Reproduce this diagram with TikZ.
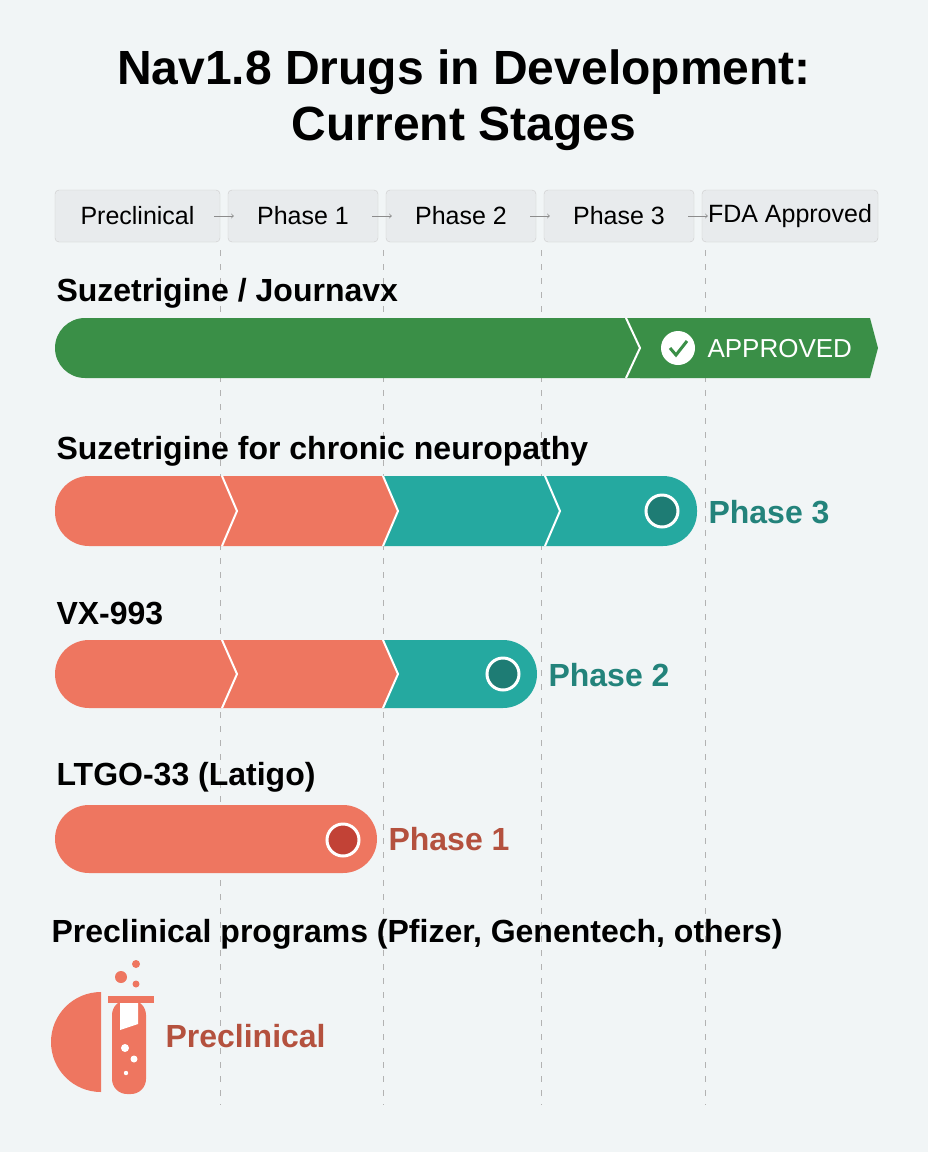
\documentclass[tikz,border=0pt]{standalone}
\usepackage{fontspec}
\setmainfont{Liberation Sans}
\usetikzlibrary{positioning}
\definecolor{bg}{HTML}{F1F5F6}
\definecolor{stagebg}{HTML}{E8EBED}
\definecolor{okgreen}{HTML}{3A8F47}
\definecolor{coral}{HTML}{EE7660}
\definecolor{teal}{HTML}{25A9A0}
\definecolor{darkteal}{HTML}{1E7C74}
\definecolor{tealtext}{HTML}{23837B}
\definecolor{rust}{HTML}{B4513E}
\begin{document}
\begin{tikzpicture}[x=1pt, y=-1pt,
  stage/.style={draw=black!20, fill=stagebg, rounded corners=4pt, minimum height=52pt, font=\fontsize{25}{27}\selectfont, inner sep=0pt},
  drug/.style={anchor=west, font=\bfseries\fontsize{32}{35}\selectfont},
  guide/.style={black!30, dash pattern=on 6pt off 8pt},
  chev/.style={white, line width=2pt},
  dot/.style={circle, draw=white, line width=3pt, minimum size=32pt, inner sep=0pt},
  phase/.style={anchor=west, font=\bfseries\fontsize{32}{35}\selectfont}]

  \fill[bg] (0,0) rectangle (928,1152);
  \useasboundingbox (0,0) rectangle (928,1152);

  % Title
  \node[align=center, font=\bfseries\fontsize{48}{56}\selectfont] (title) at (464,100) {Nav1.8 Drugs in Development:\\Current Stages};

  % Stages
  \node[stage, minimum width=165pt] (S0) at (137.5,216) {Preclinical};
  \node[stage, minimum width=150pt] (S1) at (303,216) {Phase 1};
  \node[stage, minimum width=150pt] (S2) at (461,216) {Phase 2};
  \node[stage, minimum width=150pt] (S3) at (619,216) {Phase 3};
  \node[stage, minimum width=176pt] (S4) at (790,216) {FDA Approved};
  \foreach \a/\b in {S0/S1, S1/S2, S2/S3, S3/S4}
    \draw[->, black!45, line width=0.8pt] ([xshift=-6pt]\a.east) -- ([xshift=6pt]\b.west);

  % Guides
  \foreach \x in {220,383,541,705}
    \draw[guide] (\x,250) -- (\x,1105);

  % Suzetrigine / Journavx
  \node[drug] (L1) at (53,293) {Suzetrigine / Journavx};
  \fill[okgreen, rounded corners=30pt] (55,318) rectangle (700,378);
  \fill[okgreen] (640,318) -- (870,318) -- (878,348) -- (870,378) -- (640,378) -- cycle;
  \draw[chev] (626,318) -- (640,348) -- (626,378);
  \fill[white] (678,348) circle (17pt);
  \draw[okgreen, line width=3pt] (670,348) -- (676,355) -- (687,341);
  \node[anchor=west, white, font=\fontsize{26}{28}\selectfont] (A1) at (704,349) {APPROVED};

  % Suzetrigine for chronic neuropathy
  \node[drug] (L2) at (53,451) {Suzetrigine for chronic neuropathy};
  \fill[coral, rounded corners=34pt] (55,476) rectangle (420,546);
  \fill[teal] (383,476) -- (398,511) -- (383,546) {[rounded corners=34pt] -- (697,546) -- (697,476)} -- cycle;
  \foreach \x in {222,383,545}
    \draw[chev] (\x,476) -- (\x+15,511) -- (\x,546);
  \node[dot, fill=darkteal] (D2) at (662,511) {};
  \node[phase, tealtext] (P2) at (705,512) {Phase 3};

  % VX-993
  \node[drug] (L3) at (53,613) {VX-993};
  \fill[coral, rounded corners=34pt] (55,640) rectangle (420,708);
  \fill[teal] (383,640) -- (398,674) -- (383,708) {[rounded corners=34pt] -- (537,708) -- (537,640)} -- cycle;
  \foreach \x in {222,383}
    \draw[chev] (\x,640) -- (\x+15,674) -- (\x,708);
  \node[dot, fill=darkteal] (D3) at (503,674) {};
  \node[phase, tealtext] (P3) at (545,675) {Phase 2};

  % LTGO-33
  \node[drug] (L4) at (53,777) {LTGO-33 (Latigo)};
  \fill[coral, rounded corners=34pt] (55,805) rectangle (377,873);
  \node[dot, fill=coral!70!red!80!black] (D4) at (343,840) {};
  \node[phase, rust] (P4) at (385,839) {Phase 1};

  % Preclinical programs
  \node[drug] (L5) at (48,934) {Preclinical programs (Pfizer, Genentech, others)};
  \begin{scope}
    \clip (40,980) rectangle (101,1100);
    \fill[coral] (101,1042) circle (50);
  \end{scope}
  \fill[coral] (108,996) rectangle (154,1003);
  \fill[coral, rounded corners=15pt] (112,1000) -- (112,1094) -- (146,1094) -- (146,1000) -- cycle;
  \fill[white] (120,1003) -- (120,1030) -- (138,1024) -- (138,1003) -- cycle;
  \fill[white] (125,1048) circle (4);
  \fill[white] (134,1059) circle (3.5);
  \fill[white] (126,1073) circle (2.2);
  \fill[coral] (121,977) circle (6);
  \fill[coral] (136,964) circle (4);
  \fill[coral] (136,984) circle (3.5);
  \node[phase, rust] (P5) at (162,1036) {Preclinical};

\end{tikzpicture}
\end{document}
